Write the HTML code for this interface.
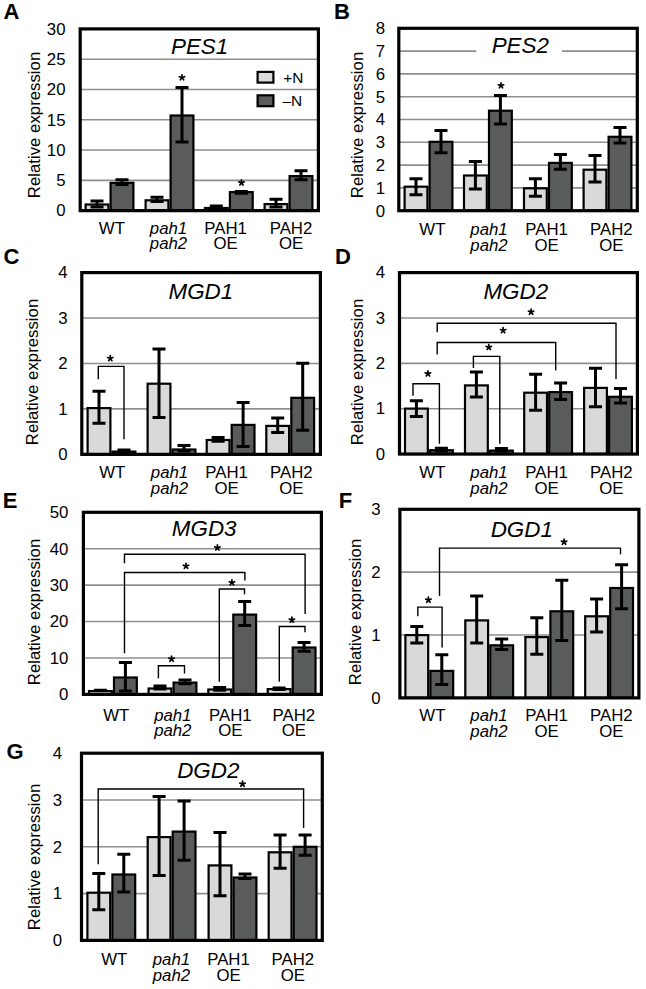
<!DOCTYPE html>
<html><head><meta charset="utf-8"><style>
html,body{margin:0;padding:0;background:#fff;width:646px;height:989px;overflow:hidden}
svg{display:block}
text{font-family:"Liberation Sans",sans-serif;fill:#000}
</style></head><body>
<svg width="646" height="989" viewBox="0 0 646 989">
<line x1="80.2" y1="180.36" x2="318.4" y2="180.36" stroke="#8f8f8f" stroke-width="1.6"/>
<line x1="80.2" y1="150.07" x2="318.4" y2="150.07" stroke="#8f8f8f" stroke-width="1.6"/>
<line x1="80.2" y1="119.78" x2="318.4" y2="119.78" stroke="#8f8f8f" stroke-width="1.6"/>
<line x1="80.2" y1="89.48" x2="318.4" y2="89.48" stroke="#8f8f8f" stroke-width="1.6"/>
<line x1="80.2" y1="59.19" x2="318.4" y2="59.19" stroke="#8f8f8f" stroke-width="1.6"/>
<rect x="85.60" y="204.50" width="22.80" height="6.15" fill="#d9d9d9" stroke="#000" stroke-width="2.2"/>
<path d="M97.00,201V206.9M90.50,201h13M90.50,206.9h13" stroke="#000" stroke-width="3.0" fill="none"/>
<rect x="110.60" y="182.80" width="22.80" height="27.85" fill="#5a5c5b" stroke="#000" stroke-width="2.2"/>
<path d="M122.00,179.8V184.6M115.50,179.8h13M115.50,184.6h13" stroke="#000" stroke-width="3.0" fill="none"/>
<rect x="145.60" y="200.30" width="22.80" height="10.35" fill="#d9d9d9" stroke="#000" stroke-width="2.2"/>
<path d="M157.00,197.2V201.5M150.50,197.2h13M150.50,201.5h13" stroke="#000" stroke-width="3.0" fill="none"/>
<rect x="170.60" y="115.50" width="22.80" height="95.15" fill="#5a5c5b" stroke="#000" stroke-width="2.2"/>
<path d="M182.00,87.5V142.1M175.50,87.5h13M175.50,142.1h13" stroke="#000" stroke-width="3.0" fill="none"/>
<rect x="204.90" y="208.00" width="22.80" height="2.65" fill="#d9d9d9" stroke="#000" stroke-width="2.2"/>
<path d="M216.30,205.9V208.5M209.80,205.9h13M209.80,208.5h13" stroke="#000" stroke-width="3.0" fill="none"/>
<rect x="229.90" y="192.10" width="22.80" height="18.55" fill="#5a5c5b" stroke="#000" stroke-width="2.2"/>
<path d="M241.30,191.4V193.3M234.80,191.4h13M234.80,193.3h13" stroke="#000" stroke-width="3.0" fill="none"/>
<rect x="264.60" y="204.10" width="22.80" height="6.55" fill="#d9d9d9" stroke="#000" stroke-width="2.2"/>
<path d="M276.00,199.2V206.9M269.50,199.2h13M269.50,206.9h13" stroke="#000" stroke-width="3.0" fill="none"/>
<rect x="289.60" y="176.10" width="22.80" height="34.55" fill="#5a5c5b" stroke="#000" stroke-width="2.2"/>
<path d="M301.00,170.7V179.8M294.50,170.7h13M294.50,179.8h13" stroke="#000" stroke-width="3.0" fill="none"/>
<rect x="80.2" y="28.9" width="238.20" height="181.75" fill="none" stroke="#000" stroke-width="3.2"/>
<path d="M182.00,77.60L182.00,74.80M182.00,77.60L184.66,76.73M182.00,77.60L183.65,79.87M182.00,77.60L180.35,79.87M182.00,77.60L179.34,76.73" stroke="#000" stroke-width="1.7" stroke-linecap="round" fill="none"/>
<path d="M241.50,182.70L241.50,179.90M241.50,182.70L244.16,181.83M241.50,182.70L243.15,184.97M241.50,182.70L239.85,184.97M241.50,182.70L238.84,181.83" stroke="#000" stroke-width="1.7" stroke-linecap="round" fill="none"/>
<text x="65.5" y="216.45" font-size="16.8" text-anchor="end">0</text>
<text x="65.5" y="186.15" font-size="16.8" text-anchor="end">5</text>
<text x="65.5" y="155.86" font-size="16.8" text-anchor="end">10</text>
<text x="65.5" y="125.57" font-size="16.8" text-anchor="end">15</text>
<text x="65.5" y="95.28" font-size="16.8" text-anchor="end">20</text>
<text x="65.5" y="64.99" font-size="16.8" text-anchor="end">25</text>
<text x="65.5" y="34.70" font-size="16.8" text-anchor="end">30</text>
<text transform="translate(39.5,125) rotate(-90)" font-size="16.8" text-anchor="middle">Relative expression</text>
<text x="199.6" y="53.5" font-size="22.4" font-style="italic" text-anchor="middle">PES1</text>
<text x="111.9" y="233.5" font-size="16.8" text-anchor="middle">WT</text>
<text x="168.5" y="233.5" font-size="16.8" text-anchor="middle" font-style="italic">pah1</text>
<text x="168.5" y="249.0" font-size="16.8" text-anchor="middle" font-style="italic">pah2</text>
<text x="225.6" y="233.5" font-size="16.8" text-anchor="middle">PAH1</text>
<text x="225.6" y="249.0" font-size="16.8" text-anchor="middle">OE</text>
<text x="291" y="233.5" font-size="16.8" text-anchor="middle">PAH2</text>
<text x="291" y="249.0" font-size="16.8" text-anchor="middle">OE</text>
<text x="3.6" y="19.2" font-size="22" font-weight="bold">A</text>
<line x1="398.8" y1="187.90" x2="637.3" y2="187.90" stroke="#8f8f8f" stroke-width="1.6"/>
<line x1="398.8" y1="165.10" x2="637.3" y2="165.10" stroke="#8f8f8f" stroke-width="1.6"/>
<line x1="398.8" y1="142.30" x2="637.3" y2="142.30" stroke="#8f8f8f" stroke-width="1.6"/>
<line x1="398.8" y1="119.50" x2="637.3" y2="119.50" stroke="#8f8f8f" stroke-width="1.6"/>
<line x1="398.8" y1="96.70" x2="637.3" y2="96.70" stroke="#8f8f8f" stroke-width="1.6"/>
<line x1="398.8" y1="73.90" x2="637.3" y2="73.90" stroke="#8f8f8f" stroke-width="1.6"/>
<line x1="398.8" y1="51.10" x2="637.3" y2="51.10" stroke="#8f8f8f" stroke-width="1.6"/>
<rect x="476.3" y="45" width="85.69999999999999" height="13" fill="#fff"/>
<rect x="404.60" y="186.70" width="22.80" height="24.00" fill="#d9d9d9" stroke="#000" stroke-width="2.2"/>
<path d="M416.00,178.8V194.7M409.50,178.8h13M409.50,194.7h13" stroke="#000" stroke-width="3.0" fill="none"/>
<rect x="429.60" y="141.80" width="22.80" height="68.90" fill="#5a5c5b" stroke="#000" stroke-width="2.2"/>
<path d="M441.00,130.5V152.7M434.50,130.5h13M434.50,152.7h13" stroke="#000" stroke-width="3.0" fill="none"/>
<rect x="464.00" y="175.50" width="22.80" height="35.20" fill="#d9d9d9" stroke="#000" stroke-width="2.2"/>
<path d="M475.40,161.4V188.9M468.90,161.4h13M468.90,188.9h13" stroke="#000" stroke-width="3.0" fill="none"/>
<rect x="489.00" y="110.70" width="22.80" height="100.00" fill="#5a5c5b" stroke="#000" stroke-width="2.2"/>
<path d="M500.40,95.6V124.1M493.90,95.6h13M493.90,124.1h13" stroke="#000" stroke-width="3.0" fill="none"/>
<rect x="524.00" y="188.30" width="22.80" height="22.40" fill="#d9d9d9" stroke="#000" stroke-width="2.2"/>
<path d="M535.40,178.8V196.2M528.90,178.8h13M528.90,196.2h13" stroke="#000" stroke-width="3.0" fill="none"/>
<rect x="549.00" y="162.90" width="22.80" height="47.80" fill="#5a5c5b" stroke="#000" stroke-width="2.2"/>
<path d="M560.40,154.6V169.2M553.90,154.6h13M553.90,169.2h13" stroke="#000" stroke-width="3.0" fill="none"/>
<rect x="583.60" y="169.70" width="22.80" height="41.00" fill="#d9d9d9" stroke="#000" stroke-width="2.2"/>
<path d="M595.00,155.6V182.1M588.50,155.6h13M588.50,182.1h13" stroke="#000" stroke-width="3.0" fill="none"/>
<rect x="608.60" y="136.80" width="22.80" height="73.90" fill="#5a5c5b" stroke="#000" stroke-width="2.2"/>
<path d="M620.00,127.6V143M613.50,127.6h13M613.50,143h13" stroke="#000" stroke-width="3.0" fill="none"/>
<rect x="398.8" y="28.3" width="238.50" height="182.40" fill="none" stroke="#000" stroke-width="3.2"/>
<path d="M501.00,85.60L501.00,82.80M501.00,85.60L503.66,84.73M501.00,85.60L502.65,87.87M501.00,85.60L499.35,87.87M501.00,85.60L498.34,84.73" stroke="#000" stroke-width="1.7" stroke-linecap="round" fill="none"/>
<text x="385.0" y="216.50" font-size="16.8" text-anchor="end">0</text>
<text x="385.0" y="193.70" font-size="16.8" text-anchor="end">1</text>
<text x="385.0" y="170.90" font-size="16.8" text-anchor="end">2</text>
<text x="385.0" y="148.10" font-size="16.8" text-anchor="end">3</text>
<text x="385.0" y="125.30" font-size="16.8" text-anchor="end">4</text>
<text x="385.0" y="102.50" font-size="16.8" text-anchor="end">5</text>
<text x="385.0" y="79.70" font-size="16.8" text-anchor="end">6</text>
<text x="385.0" y="56.90" font-size="16.8" text-anchor="end">7</text>
<text x="385.0" y="34.10" font-size="16.8" text-anchor="end">8</text>
<text transform="translate(362.8,125) rotate(-90)" font-size="16.8" text-anchor="middle">Relative expression</text>
<text x="520.3" y="52.5" font-size="22.4" font-style="italic" text-anchor="middle">PES2</text>
<text x="432.4" y="235" font-size="16.8" text-anchor="middle">WT</text>
<text x="489" y="235" font-size="16.8" text-anchor="middle" font-style="italic">pah1</text>
<text x="489" y="250.5" font-size="16.8" text-anchor="middle" font-style="italic">pah2</text>
<text x="546.6" y="235" font-size="16.8" text-anchor="middle">PAH1</text>
<text x="546.6" y="250.5" font-size="16.8" text-anchor="middle">OE</text>
<text x="611.4" y="235" font-size="16.8" text-anchor="middle">PAH2</text>
<text x="611.4" y="250.5" font-size="16.8" text-anchor="middle">OE</text>
<text x="334.0" y="19.2" font-size="22" font-weight="bold">B</text>
<line x1="81.8" y1="408.91" x2="320.4" y2="408.91" stroke="#8f8f8f" stroke-width="1.6"/>
<line x1="81.8" y1="363.48" x2="320.4" y2="363.48" stroke="#8f8f8f" stroke-width="1.6"/>
<line x1="81.8" y1="318.04" x2="320.4" y2="318.04" stroke="#8f8f8f" stroke-width="1.6"/>
<rect x="87.60" y="408.10" width="22.80" height="46.25" fill="#d9d9d9" stroke="#000" stroke-width="2.2"/>
<path d="M99.00,391.3V423.3M92.50,391.3h13M92.50,423.3h13" stroke="#000" stroke-width="3.0" fill="none"/>
<rect x="112.60" y="451.60" width="22.80" height="2.75" fill="#5a5c5b" stroke="#000" stroke-width="2.2"/>
<path d="M124.00,450V452M117.50,450h13M117.50,452h13" stroke="#000" stroke-width="3.0" fill="none"/>
<rect x="147.60" y="383.70" width="22.80" height="70.65" fill="#d9d9d9" stroke="#000" stroke-width="2.2"/>
<path d="M159.00,349V417.4M152.50,349h13M152.50,417.4h13" stroke="#000" stroke-width="3.0" fill="none"/>
<rect x="172.60" y="449.50" width="22.80" height="4.85" fill="#5a5c5b" stroke="#000" stroke-width="2.2"/>
<path d="M184.00,445.5V451M177.50,445.5h13M177.50,451h13" stroke="#000" stroke-width="3.0" fill="none"/>
<rect x="206.70" y="440.00" width="22.80" height="14.35" fill="#d9d9d9" stroke="#000" stroke-width="2.2"/>
<path d="M218.10,437.4V441.2M211.60,437.4h13M211.60,441.2h13" stroke="#000" stroke-width="3.0" fill="none"/>
<rect x="231.70" y="424.90" width="22.80" height="29.45" fill="#5a5c5b" stroke="#000" stroke-width="2.2"/>
<path d="M243.10,402.5V446.5M236.60,402.5h13M236.60,446.5h13" stroke="#000" stroke-width="3.0" fill="none"/>
<rect x="266.30" y="425.90" width="22.80" height="28.45" fill="#d9d9d9" stroke="#000" stroke-width="2.2"/>
<path d="M277.70,418V432.5M271.20,418h13M271.20,432.5h13" stroke="#000" stroke-width="3.0" fill="none"/>
<rect x="291.30" y="397.80" width="22.80" height="56.55" fill="#5a5c5b" stroke="#000" stroke-width="2.2"/>
<path d="M302.70,363.3V430.2M296.20,363.3h13M296.20,430.2h13" stroke="#000" stroke-width="3.0" fill="none"/>
<rect x="81.8" y="272.6" width="238.60" height="181.75" fill="none" stroke="#000" stroke-width="3.2"/>
<path d="M98.3,379.3V366.4H124V439.3" fill="none" stroke="#000" stroke-width="1.4"/>
<path d="M110.30,358.40L110.30,355.60M110.30,358.40L112.96,357.53M110.30,358.40L111.95,360.67M110.30,358.40L108.65,360.67M110.30,358.40L107.64,357.53" stroke="#000" stroke-width="1.7" stroke-linecap="round" fill="none"/>
<text x="67.5" y="460.15" font-size="16.8" text-anchor="end">0</text>
<text x="67.5" y="414.71" font-size="16.8" text-anchor="end">1</text>
<text x="67.5" y="369.27" font-size="16.8" text-anchor="end">2</text>
<text x="67.5" y="323.83" font-size="16.8" text-anchor="end">3</text>
<text x="67.5" y="278.40" font-size="16.8" text-anchor="end">4</text>
<text transform="translate(38.4,372) rotate(-90)" font-size="16.8" text-anchor="middle">Relative expression</text>
<text x="200.9" y="299" font-size="22.4" font-style="italic" text-anchor="middle">MGD1</text>
<text x="112.2" y="478.2" font-size="16.8" text-anchor="middle">WT</text>
<text x="169.5" y="478.2" font-size="16.8" text-anchor="middle" font-style="italic">pah1</text>
<text x="169.5" y="493.7" font-size="16.8" text-anchor="middle" font-style="italic">pah2</text>
<text x="226.6" y="478.2" font-size="16.8" text-anchor="middle">PAH1</text>
<text x="226.6" y="493.7" font-size="16.8" text-anchor="middle">OE</text>
<text x="291.4" y="478.2" font-size="16.8" text-anchor="middle">PAH2</text>
<text x="291.4" y="493.7" font-size="16.8" text-anchor="middle">OE</text>
<text x="3.4" y="263.8" font-size="22" font-weight="bold">C</text>
<line x1="399.5" y1="408.69" x2="637.4" y2="408.69" stroke="#8f8f8f" stroke-width="1.6"/>
<line x1="399.5" y1="363.33" x2="637.4" y2="363.33" stroke="#8f8f8f" stroke-width="1.6"/>
<line x1="399.5" y1="317.96" x2="637.4" y2="317.96" stroke="#8f8f8f" stroke-width="1.6"/>
<rect x="405.00" y="408.60" width="22.80" height="45.45" fill="#d9d9d9" stroke="#000" stroke-width="2.2"/>
<path d="M416.40,400.7V416.4M409.90,400.7h13M409.90,416.4h13" stroke="#000" stroke-width="3.0" fill="none"/>
<rect x="430.00" y="450.20" width="22.80" height="3.85" fill="#5a5c5b" stroke="#000" stroke-width="2.2"/>
<path d="M441.40,448.3V451M434.90,448.3h13M434.90,451h13" stroke="#000" stroke-width="3.0" fill="none"/>
<rect x="465.00" y="385.40" width="22.80" height="68.65" fill="#d9d9d9" stroke="#000" stroke-width="2.2"/>
<path d="M476.40,371.9V396.9M469.90,371.9h13M469.90,396.9h13" stroke="#000" stroke-width="3.0" fill="none"/>
<rect x="490.00" y="450.60" width="22.80" height="3.45" fill="#5a5c5b" stroke="#000" stroke-width="2.2"/>
<path d="M501.40,448.6V451M494.90,448.6h13M494.90,451h13" stroke="#000" stroke-width="3.0" fill="none"/>
<rect x="524.20" y="392.70" width="22.80" height="61.35" fill="#d9d9d9" stroke="#000" stroke-width="2.2"/>
<path d="M535.60,374.3V410.2M529.10,374.3h13M529.10,410.2h13" stroke="#000" stroke-width="3.0" fill="none"/>
<rect x="549.20" y="392.10" width="22.80" height="61.95" fill="#5a5c5b" stroke="#000" stroke-width="2.2"/>
<path d="M560.60,383V399.4M554.10,383h13M554.10,399.4h13" stroke="#000" stroke-width="3.0" fill="none"/>
<rect x="584.10" y="387.90" width="22.80" height="66.15" fill="#d9d9d9" stroke="#000" stroke-width="2.2"/>
<path d="M595.50,368.2V406.8M589.00,368.2h13M589.00,406.8h13" stroke="#000" stroke-width="3.0" fill="none"/>
<rect x="609.10" y="396.80" width="22.80" height="57.25" fill="#5a5c5b" stroke="#000" stroke-width="2.2"/>
<path d="M620.50,388.6V403.1M614.00,388.6h13M614.00,403.1h13" stroke="#000" stroke-width="3.0" fill="none"/>
<rect x="399.5" y="272.6" width="237.90" height="181.45" fill="none" stroke="#000" stroke-width="3.2"/>
<path d="M413,395.8V383.8H439.4V443.8" fill="none" stroke="#000" stroke-width="1.4"/>
<path d="M473.4,368V356.4H499.8V443.8" fill="none" stroke="#000" stroke-width="1.4"/>
<path d="M437.2,354.6V342.5H555.7V370.6" fill="none" stroke="#000" stroke-width="1.4"/>
<path d="M437.2,332.3V323.2H616V379" fill="none" stroke="#000" stroke-width="1.4"/>
<path d="M427.90,373.70L427.90,370.90M427.90,373.70L430.56,372.83M427.90,373.70L429.55,375.97M427.90,373.70L426.25,375.97M427.90,373.70L425.24,372.83" stroke="#000" stroke-width="1.7" stroke-linecap="round" fill="none"/>
<path d="M488.80,347.20L488.80,344.40M488.80,347.20L491.46,346.33M488.80,347.20L490.45,349.47M488.80,347.20L487.15,349.47M488.80,347.20L486.14,346.33" stroke="#000" stroke-width="1.7" stroke-linecap="round" fill="none"/>
<path d="M503.10,330.40L503.10,327.60M503.10,330.40L505.76,329.53M503.10,330.40L504.75,332.67M503.10,330.40L501.45,332.67M503.10,330.40L500.44,329.53" stroke="#000" stroke-width="1.7" stroke-linecap="round" fill="none"/>
<path d="M531.10,312.00L531.10,309.20M531.10,312.00L533.76,311.13M531.10,312.00L532.75,314.27M531.10,312.00L529.45,314.27M531.10,312.00L528.44,311.13" stroke="#000" stroke-width="1.7" stroke-linecap="round" fill="none"/>
<text x="385.1" y="459.85" font-size="16.8" text-anchor="end">0</text>
<text x="385.1" y="414.48" font-size="16.8" text-anchor="end">1</text>
<text x="385.1" y="369.12" font-size="16.8" text-anchor="end">2</text>
<text x="385.1" y="323.76" font-size="16.8" text-anchor="end">3</text>
<text x="385.1" y="278.40" font-size="16.8" text-anchor="end">4</text>
<text transform="translate(363,372) rotate(-90)" font-size="16.8" text-anchor="middle">Relative expression</text>
<text x="515.8" y="298.6" font-size="22.4" font-style="italic" text-anchor="middle">MGD2</text>
<text x="432.4" y="478.2" font-size="16.8" text-anchor="middle">WT</text>
<text x="489" y="478.2" font-size="16.8" text-anchor="middle" font-style="italic">pah1</text>
<text x="489" y="493.7" font-size="16.8" text-anchor="middle" font-style="italic">pah2</text>
<text x="546.6" y="478.2" font-size="16.8" text-anchor="middle">PAH1</text>
<text x="546.6" y="493.7" font-size="16.8" text-anchor="middle">OE</text>
<text x="611.4" y="478.2" font-size="16.8" text-anchor="middle">PAH2</text>
<text x="611.4" y="493.7" font-size="16.8" text-anchor="middle">OE</text>
<text x="335.0" y="263.8" font-size="22" font-weight="bold">D</text>
<line x1="83.4" y1="657.98" x2="321.4" y2="657.98" stroke="#8f8f8f" stroke-width="1.6"/>
<line x1="83.4" y1="621.56" x2="321.4" y2="621.56" stroke="#8f8f8f" stroke-width="1.6"/>
<line x1="83.4" y1="585.14" x2="321.4" y2="585.14" stroke="#8f8f8f" stroke-width="1.6"/>
<line x1="83.4" y1="548.72" x2="321.4" y2="548.72" stroke="#8f8f8f" stroke-width="1.6"/>
<rect x="89.00" y="691.10" width="22.80" height="3.30" fill="#d9d9d9" stroke="#000" stroke-width="2.2"/>
<path d="M100.40,690.3V690.3M93.90,690.3h13M93.90,690.3h13" stroke="#000" stroke-width="3.0" fill="none"/>
<rect x="114.00" y="677.50" width="22.80" height="16.90" fill="#5a5c5b" stroke="#000" stroke-width="2.2"/>
<path d="M125.40,662.5V691M118.90,662.5h13M118.90,691h13" stroke="#000" stroke-width="3.0" fill="none"/>
<rect x="148.60" y="688.50" width="22.80" height="5.90" fill="#d9d9d9" stroke="#000" stroke-width="2.2"/>
<path d="M160.00,686.1V689M153.50,686.1h13M153.50,689h13" stroke="#000" stroke-width="3.0" fill="none"/>
<rect x="173.60" y="682.60" width="22.80" height="11.80" fill="#5a5c5b" stroke="#000" stroke-width="2.2"/>
<path d="M185.00,680V683.8M178.50,680h13M178.50,683.8h13" stroke="#000" stroke-width="3.0" fill="none"/>
<rect x="208.30" y="689.50" width="22.80" height="4.90" fill="#d9d9d9" stroke="#000" stroke-width="2.2"/>
<path d="M219.70,687.6V690.3M213.20,687.6h13M213.20,690.3h13" stroke="#000" stroke-width="3.0" fill="none"/>
<rect x="233.30" y="614.60" width="22.80" height="79.80" fill="#5a5c5b" stroke="#000" stroke-width="2.2"/>
<path d="M244.70,601.5V625.5M238.20,601.5h13M238.20,625.5h13" stroke="#000" stroke-width="3.0" fill="none"/>
<rect x="267.70" y="689.10" width="22.80" height="5.30" fill="#d9d9d9" stroke="#000" stroke-width="2.2"/>
<path d="M279.10,687.9V689.4M272.60,687.9h13M272.60,689.4h13" stroke="#000" stroke-width="3.0" fill="none"/>
<rect x="292.70" y="647.50" width="22.80" height="46.90" fill="#5a5c5b" stroke="#000" stroke-width="2.2"/>
<path d="M304.10,642.5V651.3M297.60,642.5h13M297.60,651.3h13" stroke="#000" stroke-width="3.0" fill="none"/>
<rect x="83.4" y="512.3" width="238.00" height="182.10" fill="none" stroke="#000" stroke-width="3.2"/>
<path d="M158.4,678.3V665.8H184.5V673.5" fill="none" stroke="#000" stroke-width="1.4"/>
<path d="M219.3,681.8V589H244.5V594.2" fill="none" stroke="#000" stroke-width="1.4"/>
<path d="M279.3,681.8V626.5H305V632.3" fill="none" stroke="#000" stroke-width="1.4"/>
<path d="M124.5,653.2V572.5H244.9V580.6" fill="none" stroke="#000" stroke-width="1.4"/>
<path d="M124.5,563.2V554.3H305.1V614.1" fill="none" stroke="#000" stroke-width="1.4"/>
<path d="M171.50,659.00L171.50,656.20M171.50,659.00L174.16,658.13M171.50,659.00L173.15,661.27M171.50,659.00L169.85,661.27M171.50,659.00L168.84,658.13" stroke="#000" stroke-width="1.7" stroke-linecap="round" fill="none"/>
<path d="M231.90,582.60L231.90,579.80M231.90,582.60L234.56,581.73M231.90,582.60L233.55,584.87M231.90,582.60L230.25,584.87M231.90,582.60L229.24,581.73" stroke="#000" stroke-width="1.7" stroke-linecap="round" fill="none"/>
<path d="M291.90,619.90L291.90,617.10M291.90,619.90L294.56,619.03M291.90,619.90L293.55,622.17M291.90,619.90L290.25,622.17M291.90,619.90L289.24,619.03" stroke="#000" stroke-width="1.7" stroke-linecap="round" fill="none"/>
<path d="M186.00,566.10L186.00,563.30M186.00,566.10L188.66,565.23M186.00,566.10L187.65,568.37M186.00,566.10L184.35,568.37M186.00,566.10L183.34,565.23" stroke="#000" stroke-width="1.7" stroke-linecap="round" fill="none"/>
<path d="M217.40,547.70L217.40,544.90M217.40,547.70L220.06,546.83M217.40,547.70L219.05,549.97M217.40,547.70L215.75,549.97M217.40,547.70L214.74,546.83" stroke="#000" stroke-width="1.7" stroke-linecap="round" fill="none"/>
<text x="68.4" y="700.20" font-size="16.8" text-anchor="end">0</text>
<text x="68.4" y="663.78" font-size="16.8" text-anchor="end">10</text>
<text x="68.4" y="627.36" font-size="16.8" text-anchor="end">20</text>
<text x="68.4" y="590.94" font-size="16.8" text-anchor="end">30</text>
<text x="68.4" y="554.52" font-size="16.8" text-anchor="end">40</text>
<text x="68.4" y="518.10" font-size="16.8" text-anchor="end">50</text>
<text transform="translate(40,612) rotate(-90)" font-size="16.8" text-anchor="middle">Relative expression</text>
<text x="204.2" y="536.2" font-size="22.4" font-style="italic" text-anchor="middle">MGD3</text>
<text x="116.2" y="720.5" font-size="16.8" text-anchor="middle">WT</text>
<text x="172.8" y="720.5" font-size="16.8" text-anchor="middle" font-style="italic">pah1</text>
<text x="172.8" y="736.0" font-size="16.8" text-anchor="middle" font-style="italic">pah2</text>
<text x="230.4" y="720.5" font-size="16.8" text-anchor="middle">PAH1</text>
<text x="230.4" y="736.0" font-size="16.8" text-anchor="middle">OE</text>
<text x="293.8" y="720.5" font-size="16.8" text-anchor="middle">PAH2</text>
<text x="293.8" y="736.0" font-size="16.8" text-anchor="middle">OE</text>
<text x="2.8" y="508.2" font-size="22" font-weight="bold">E</text>
<line x1="399.9" y1="635.03" x2="638.9" y2="635.03" stroke="#8f8f8f" stroke-width="1.6"/>
<line x1="399.9" y1="572.17" x2="638.9" y2="572.17" stroke="#8f8f8f" stroke-width="1.6"/>
<rect x="405.40" y="635.10" width="22.80" height="62.80" fill="#d9d9d9" stroke="#000" stroke-width="2.2"/>
<path d="M416.80,626.4V643.1M410.30,626.4h13M410.30,643.1h13" stroke="#000" stroke-width="3.0" fill="none"/>
<rect x="430.40" y="670.90" width="22.80" height="27.00" fill="#5a5c5b" stroke="#000" stroke-width="2.2"/>
<path d="M441.80,654.7V684.6M435.30,654.7h13M435.30,684.6h13" stroke="#000" stroke-width="3.0" fill="none"/>
<rect x="465.30" y="620.40" width="22.80" height="77.50" fill="#d9d9d9" stroke="#000" stroke-width="2.2"/>
<path d="M476.70,596V642.9M470.20,596h13M470.20,642.9h13" stroke="#000" stroke-width="3.0" fill="none"/>
<rect x="490.30" y="645.30" width="22.80" height="52.60" fill="#5a5c5b" stroke="#000" stroke-width="2.2"/>
<path d="M501.70,638.9V649.6M495.20,638.9h13M495.20,649.6h13" stroke="#000" stroke-width="3.0" fill="none"/>
<rect x="525.40" y="637.10" width="22.80" height="60.80" fill="#d9d9d9" stroke="#000" stroke-width="2.2"/>
<path d="M536.80,617.7V654.3M530.30,617.7h13M530.30,654.3h13" stroke="#000" stroke-width="3.0" fill="none"/>
<rect x="550.40" y="611.30" width="22.80" height="86.60" fill="#5a5c5b" stroke="#000" stroke-width="2.2"/>
<path d="M561.80,580.2V640.5M555.30,580.2h13M555.30,640.5h13" stroke="#000" stroke-width="3.0" fill="none"/>
<rect x="585.20" y="616.30" width="22.80" height="81.60" fill="#d9d9d9" stroke="#000" stroke-width="2.2"/>
<path d="M596.60,599V632M590.10,599h13M590.10,632h13" stroke="#000" stroke-width="3.0" fill="none"/>
<rect x="610.20" y="588.00" width="22.80" height="109.90" fill="#5a5c5b" stroke="#000" stroke-width="2.2"/>
<path d="M621.60,564.7V608.8M615.10,564.7h13M615.10,608.8h13" stroke="#000" stroke-width="3.0" fill="none"/>
<rect x="399.9" y="509.3" width="239.00" height="188.60" fill="none" stroke="#000" stroke-width="3.2"/>
<path d="M417.8,616.2V607.1H442.1V647.6" fill="none" stroke="#000" stroke-width="1.4"/>
<path d="M439.5,596V548.1H620.5V554.2" fill="none" stroke="#000" stroke-width="1.4"/>
<path d="M428.40,600.00L428.40,597.20M428.40,600.00L431.06,599.13M428.40,600.00L430.05,602.27M428.40,600.00L426.75,602.27M428.40,600.00L425.74,599.13" stroke="#000" stroke-width="1.7" stroke-linecap="round" fill="none"/>
<path d="M564.10,542.00L564.10,539.20M564.10,542.00L566.76,541.13M564.10,542.00L565.75,544.27M564.10,542.00L562.45,544.27M564.10,542.00L561.44,541.13" stroke="#000" stroke-width="1.7" stroke-linecap="round" fill="none"/>
<text x="380.5" y="703.70" font-size="16.8" text-anchor="end">0</text>
<text x="380.5" y="640.83" font-size="16.8" text-anchor="end">1</text>
<text x="380.5" y="577.96" font-size="16.8" text-anchor="end">2</text>
<text x="380.5" y="515.10" font-size="16.8" text-anchor="end">3</text>
<text transform="translate(361.4,612) rotate(-90)" font-size="16.8" text-anchor="middle">Relative expression</text>
<text x="521.8" y="536.5" font-size="22.4" font-style="italic" text-anchor="middle">DGD1</text>
<text x="432.4" y="721.2" font-size="16.8" text-anchor="middle">WT</text>
<text x="489" y="721.2" font-size="16.8" text-anchor="middle" font-style="italic">pah1</text>
<text x="489" y="736.7" font-size="16.8" text-anchor="middle" font-style="italic">pah2</text>
<text x="546.6" y="721.2" font-size="16.8" text-anchor="middle">PAH1</text>
<text x="546.6" y="736.7" font-size="16.8" text-anchor="middle">OE</text>
<text x="611.4" y="721.2" font-size="16.8" text-anchor="middle">PAH2</text>
<text x="611.4" y="736.7" font-size="16.8" text-anchor="middle">OE</text>
<text x="338.7" y="508.2" font-size="22" font-weight="bold">F</text>
<line x1="81.5" y1="893.60" x2="322.3" y2="893.60" stroke="#8f8f8f" stroke-width="1.6"/>
<line x1="81.5" y1="846.80" x2="322.3" y2="846.80" stroke="#8f8f8f" stroke-width="1.6"/>
<line x1="81.5" y1="800.00" x2="322.3" y2="800.00" stroke="#8f8f8f" stroke-width="1.6"/>
<rect x="87.40" y="892.70" width="22.80" height="47.70" fill="#d9d9d9" stroke="#000" stroke-width="2.2"/>
<path d="M98.80,873.4V909.8M92.30,873.4h13M92.30,909.8h13" stroke="#000" stroke-width="3.0" fill="none"/>
<rect x="112.40" y="874.50" width="22.80" height="65.90" fill="#5a5c5b" stroke="#000" stroke-width="2.2"/>
<path d="M123.80,854.2V892M117.30,854.2h13M117.30,892h13" stroke="#000" stroke-width="3.0" fill="none"/>
<rect x="147.70" y="837.10" width="22.80" height="103.30" fill="#d9d9d9" stroke="#000" stroke-width="2.2"/>
<path d="M159.10,796.5V875.4M152.60,796.5h13M152.60,875.4h13" stroke="#000" stroke-width="3.0" fill="none"/>
<rect x="172.70" y="831.60" width="22.80" height="108.80" fill="#5a5c5b" stroke="#000" stroke-width="2.2"/>
<path d="M184.10,801V860.3M177.60,801h13M177.60,860.3h13" stroke="#000" stroke-width="3.0" fill="none"/>
<rect x="208.60" y="865.40" width="22.80" height="75.00" fill="#d9d9d9" stroke="#000" stroke-width="2.2"/>
<path d="M220.00,832.5V895.7M213.50,832.5h13M213.50,895.7h13" stroke="#000" stroke-width="3.0" fill="none"/>
<rect x="233.60" y="877.50" width="22.80" height="62.90" fill="#5a5c5b" stroke="#000" stroke-width="2.2"/>
<path d="M245.00,874V878.5M238.50,874h13M238.50,878.5h13" stroke="#000" stroke-width="3.0" fill="none"/>
<rect x="268.70" y="852.30" width="22.80" height="88.10" fill="#d9d9d9" stroke="#000" stroke-width="2.2"/>
<path d="M280.10,835V868.3M273.60,835h13M273.60,868.3h13" stroke="#000" stroke-width="3.0" fill="none"/>
<rect x="293.70" y="846.80" width="22.80" height="93.60" fill="#5a5c5b" stroke="#000" stroke-width="2.2"/>
<path d="M305.10,835V855.2M298.60,835h13M298.60,855.2h13" stroke="#000" stroke-width="3.0" fill="none"/>
<rect x="81.5" y="753.2" width="240.80" height="187.20" fill="none" stroke="#000" stroke-width="3.2"/>
<path d="M98.2,864.3V789H303.6V827.9" fill="none" stroke="#000" stroke-width="1.4"/>
<path d="M242.50,784.00L242.50,781.20M242.50,784.00L245.16,783.13M242.50,784.00L244.15,786.27M242.50,784.00L240.85,786.27M242.50,784.00L239.84,783.13" stroke="#000" stroke-width="1.7" stroke-linecap="round" fill="none"/>
<text x="62.1" y="946.20" font-size="16.8" text-anchor="end">0</text>
<text x="62.1" y="899.40" font-size="16.8" text-anchor="end">1</text>
<text x="62.1" y="852.60" font-size="16.8" text-anchor="end">2</text>
<text x="62.1" y="805.80" font-size="16.8" text-anchor="end">3</text>
<text x="62.1" y="759.00" font-size="16.8" text-anchor="end">4</text>
<text transform="translate(40,857) rotate(-90)" font-size="16.8" text-anchor="middle">Relative expression</text>
<text x="208.3" y="778.2" font-size="22.4" font-style="italic" text-anchor="middle">DGD2</text>
<text x="114.3" y="965" font-size="16.8" text-anchor="middle">WT</text>
<text x="171.4" y="965" font-size="16.8" text-anchor="middle" font-style="italic">pah1</text>
<text x="171.4" y="980.5" font-size="16.8" text-anchor="middle" font-style="italic">pah2</text>
<text x="228.5" y="965" font-size="16.8" text-anchor="middle">PAH1</text>
<text x="228.5" y="980.5" font-size="16.8" text-anchor="middle">OE</text>
<text x="292.8" y="965" font-size="16.8" text-anchor="middle">PAH2</text>
<text x="292.8" y="980.5" font-size="16.8" text-anchor="middle">OE</text>
<text x="6.5" y="759.2" font-size="22" font-weight="bold">G</text>
<rect x="257.6" y="71.9" width="15.8" height="10.7" fill="#d9d9d9" stroke="#000" stroke-width="2.2"/>
<rect x="257.6" y="95.3" width="15.8" height="10.9" fill="#5a5c5b" stroke="#000" stroke-width="2.2"/>
<text x="283.3" y="82.5" font-size="15.4">+N</text>
<text x="282.5" y="106.2" font-size="15.4">–N</text>
</svg></body></html>
